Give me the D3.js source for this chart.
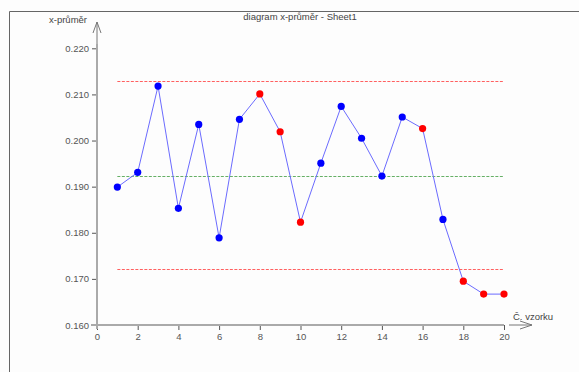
<!DOCTYPE html>
<html><head><meta charset="utf-8">
<script src="https://cdn.jsdelivr.net/npm/d3@7"></script>
<style>body{margin:0;background:#fff}svg{display:block}</style>
</head><body>
<svg id="c" width="579" height="372"></svg>
<script>
const samples = d3.range(1, 21);
const means = [0.1899,0.1931,0.2118,0.1853,0.2035,0.1789,0.2046,0.2101,0.2019,0.1823,
               0.1951,0.2074,0.2005,0.1923,0.2051,0.2026,0.1829,0.1695,0.1667,0.1667];
const flagged = [8,9,10,16,18,19,20];
const ucl = 0.2129, cl = 0.1924, lcl = 0.1721;
const xTicks = [0,2,4,6,8,10,12,14,16,18,20];
const yTicks = [0.160,0.170,0.180,0.190,0.200,0.210,0.220];
const title = "diagram x-průměr - Sheet1";
const yLabel = "x-průměr";
const xLabel = "Č. vzorku";

const svg = d3.select("#c");
const font = "Liberation Sans, Arial, sans-serif";
svg.append("rect").attr("width",579).attr("height",372).attr("fill","#fdfdfd");
svg.append("path").attr("d","M9.5,372V11.5H579").attr("fill","none").attr("stroke","#666").attr("stroke-width",1);

const x = d3.scaleLinear().domain([0,20]).range([97,504]);
const y = d3.scaleLinear().domain([0.16,0.22]).range([325,48.3]);

svg.append("text").attr("x",300).attr("y",20).attr("text-anchor","middle")
  .attr("font-family",font).attr("font-size",9.5).attr("fill","#444").text(title);

const gx = svg.append("g").attr("transform","translate(0,325)")
  .call(d3.axisBottom(x).tickValues(xTicks).tickSize(5).tickPadding(3).tickFormat(d3.format("d")));
gx.select(".domain").remove();
const gy = svg.append("g").attr("transform","translate(97,0)")
  .call(d3.axisLeft(y).tickValues(yTicks).tickSize(5).tickPadding(3).tickFormat(d3.format(".3f")));
gy.select(".domain").remove();
[gx,gy].forEach(g=>{
  g.selectAll("text").attr("font-family",font).attr("font-size",9.5).attr("fill","#555");
  g.selectAll("line").attr("stroke","#555");
});
svg.append("line").attr("x1",91).attr("x2",504).attr("y1",325).attr("y2",325).attr("stroke","#aaa").attr("stroke-width",2);
svg.append("line").attr("x1",97).attr("x2",97).attr("y1",329).attr("y2",44).attr("stroke","#aaa").attr("stroke-width",2);
svg.append("path").attr("d","M97,44V22M93,33L97,22L101,33").attr("fill","none").attr("stroke","#777").attr("stroke-width",1);
svg.append("path").attr("d","M509,325H532M520,321L532,325L520,329").attr("fill","none").attr("stroke","#777").attr("stroke-width",1);
svg.append("text").attr("x",87).attr("y",23).attr("text-anchor","end")
  .attr("font-family",font).attr("font-size",9.5).attr("fill","#444").text(yLabel);
svg.append("text").attr("x",513).attr("y",320)
  .attr("font-family",font).attr("font-size",9.5).attr("fill","#444").text(xLabel);

const limits = [{v:ucl,c:"#ff6060"},{v:cl,c:"#66b066"},{v:lcl,c:"#ff6060"}];
svg.selectAll("line.lim").data(limits).join("line").attr("class","lim")
  .attr("x1",x(1)).attr("x2",x(20))
  .attr("y1",d=>Math.round(y(d.v))+0.5).attr("y2",d=>Math.round(y(d.v))+0.5)
  .attr("stroke",d=>d.c).attr("stroke-width",1).attr("stroke-dasharray","3,1.5");

const pts = samples.map((s,i)=>({s,v:means[i]}));
svg.append("path").datum(pts).attr("fill","none").attr("stroke","#6b6bff").attr("stroke-width",1)
  .attr("d",d3.line().x(d=>x(d.s)).y(d=>y(d.v)));
svg.selectAll("circle.p").data(pts).join("circle").attr("class","p")
  .attr("cx",d=>x(d.s)).attr("cy",d=>y(d.v)).attr("r",3.6)
  .attr("fill",d=>flagged.includes(d.s)?"#ff0000":"#0000ff");
</script>
</body></html>
